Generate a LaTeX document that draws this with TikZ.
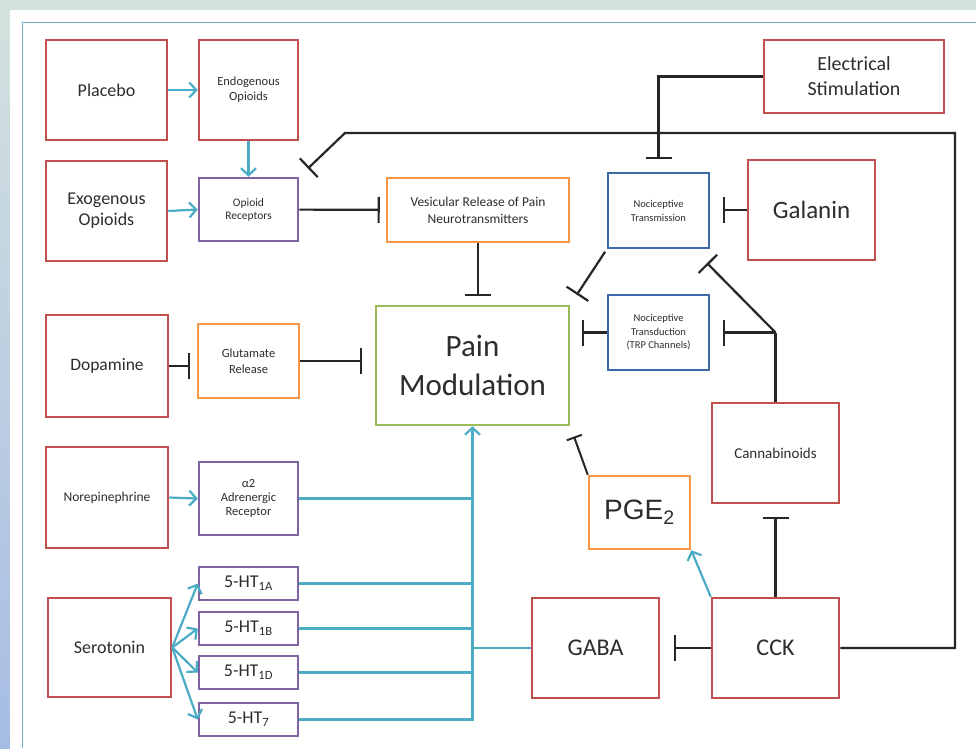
\documentclass[tikz,border=0pt]{standalone}
\usepackage{fontspec}
\setmainfont{Carlito}
\newfontfamily\arialfont{Liberation Sans}
\usetikzlibrary{arrows.meta}

\definecolor{boxred}{RGB}{192,80,77}
\definecolor{boxpurple}{RGB}{128,100,162}
\definecolor{boxorange}{RGB}{247,150,70}
\definecolor{boxgreen}{RGB}{155,187,89}
\definecolor{boxblue}{RGB}{63,106,168}
\definecolor{linkblue}{RGB}{75,172,198}
\definecolor{txtgray}{RGB}{45,45,45}
\definecolor{bgteal}{RGB}{212,226,222}
\definecolor{bgblue}{RGB}{166,188,228}
\definecolor{framebl}{RGB}{120,170,200}
\newcommand{\fs}[2]{\fontsize{#1}{#2}\selectfont}

\begin{document}
\begin{tikzpicture}[x=1pt, y=-1pt,
  box/.style={draw, line width=2.5pt, inner sep=2pt, align=center, text=txtgray},
  sz/.style 2 args={minimum width=#1pt, minimum height=#2pt},
  redbox/.style={box, draw=boxred},
  purplebox/.style={box, draw=boxpurple},
  orangebox/.style={box, draw=boxorange},
  greenbox/.style={box, draw=boxgreen},
  bluebox/.style={box, draw=boxblue},
  bus/.style={draw=linkblue, line width=2.2pt},
  act/.style={bus, -{Straight Barb[length=7pt, width=15pt]}},
  stem/.style={draw=black!85, line width=2.2pt},
  inh/.style={stem, -{Bar[width=26pt]}}]
\useasboundingbox (0,0) rectangle (976,748);
% background and frame
\fill[bgteal] (0,0) rectangle (976,748);
\shade[top color=bgteal, bottom color=bgblue] (0,0) rectangle (10,748);
\fill[white] (10,10) rectangle (976,748);
\draw[framebl, line width=1pt] (22,748) -- (22,22) -- (976,22);

% left column
\node[redbox, sz={121}{100}, font=\fs{18}{22}] (placebo) at (106.5,90) {Placebo};
\node[redbox, sz={99}{100}, font=\fs{12.5}{15}] (endo) at (248.5,90) {Endogenous\\Opioids};
\node[redbox, sz={121}{100}, font=\fs{18}{21}] (exo) at (106.5,211) {Exogenous\\Opioids};
\node[purplebox, sz={99}{63}, font=\fs{11.5}{13}] (oprec) at (248.5,209.5) {Opioid\\Receptors};
\node[redbox, sz={122}{102}, font=\fs{17.5}{21}] (dopa) at (107,366) {Dopamine};
\node[orangebox, sz={101}{74}, font=\fs{12.5}{16}] (glut) at (248.5,361) {Glutamate\\Release};
\node[redbox, sz={122}{101}, font=\fs{13.5}{16}] (norepi) at (107,497.5) {Norepinephrine};
\node[purplebox, sz={99}{73}, font=\fs{12.5}{14}] (alpha) at (248.5,498.5) {α2\\Adrenergic\\Receptor};
\node[redbox, sz={123}{99}, font=\fs{18}{22}] (sero) at (109.5,647.5) {Serotonin};
\node[purplebox, sz={99}{33}, font=\fs{18}{20}] (ht1a) at (248.5,583.5) {5-HT\textsubscript{1A}};
\node[purplebox, sz={99}{33}, font=\fs{18}{20}] (ht1b) at (248.5,628.5) {5-HT\textsubscript{1B}};
\node[purplebox, sz={99}{33}, font=\fs{18}{20}] (ht1d) at (248.5,672.5) {5-HT\textsubscript{1D}};
\node[purplebox, sz={99}{33}, font=\fs{18}{20}] (ht7) at (248.5,719.5) {5-HT\textsubscript{7}};

% centre
\node[orangebox, sz={182}{64}, font=\fs{13.5}{17}] (vesic) at (478,210) {Vesicular Release of Pain\\Neurotransmitters};
\node[greenbox, sz={193}{119}, font=\fs{31}{39}] (pain) at (472.5,365.5) {Pain\\Modulation};

% right column
\node[redbox, sz={180}{73}, font=\fs{20}{25}] (elec) at (854,76.5) {Electrical\\Stimulation};
\node[bluebox, sz={101}{75}, font=\fs{10.5}{14}] (ntrans) at (658.5,210.5) {Nociceptive\\Transmission};
\node[redbox, sz={127}{100}, font=\fs{25}{30}] (galanin) at (811.5,210) {Galanin};
\node[bluebox, sz={101}{75}, font=\fs{10.5}{13.5}] (ntransd) at (658.5,332.5) {Nociceptive\\Transduction\\(TRP Channels)};
\node[redbox, sz={127}{100}, font=\fs{15}{18}] (canna) at (775.5,453) {Cannabinoids};
\node[orangebox, sz={101}{73}, font=\arialfont\fs{28}{32}] (pge) at (639.5,512.5) {PGE\textsubscript{2}};
\node[redbox, sz={127}{100}, font=\fs{24}{28}] (gaba) at (595.5,648) {GABA};
\node[redbox, sz={127}{100}, font=\fs{24}{28}] (cck) at (775.5,648) {CCK};

% activating links
\draw[act] (placebo) -- (endo);
\draw[act] (endo) -- (oprec);
\draw[act] (exo.east) -- (oprec.west);
\draw[act] (norepi.east) -- (alpha.west);
\foreach \r in {ht1a,ht1b,ht1d,ht7}
  \draw[act] (sero.east) -- (\r.west);
\foreach \r in {alpha,ht1a,ht1b,ht1d}
  \draw[bus] (\r.east) -- (\r.east -| pain.south);
\draw[bus] (gaba.west) -- (gaba.west -| pain.south);
\draw[act] (ht7.east) -| (pain.south);
\draw[act] (cck.north west) -- (pge.south east);

% inhibiting links
\draw[inh, shorten >=6pt] (oprec) -- (vesic);
\draw[inh, shorten >=9pt] (vesic.south) -- (vesic.south |- pain.north);
\draw[inh, shorten >=13pt] (glut.east) -- (glut.east -| pain.west);
\draw[inh, shorten >=7pt] (dopa.east) -- (dopa.east -| glut.west);
\draw[inh, shorten <=3pt, shorten >=12pt] (ntrans.south west) -- (pain.north east);
\draw[inh, shorten >=12pt] (ntransd.west) -- (ntransd.west -| pain.east);
\draw[inh, shorten >=13pt] (galanin.west) -- (galanin.west -| ntrans.east);
\coordinate (cannajoin) at (canna.north |- ntransd.east);
\coordinate (cannatip) at (700,256);
\draw[stem] (canna.north) -- (cannajoin);
\draw[inh, shorten >=13pt] (cannajoin) -- (ntransd.east);
\draw[inh, shorten >=10pt] (cannajoin) -- (cannatip);
\draw[inh, shorten >=13pt] (cck) -- (canna);
\draw[inh, shorten >=14pt] (cck) -- (gaba);
\coordinate (loopne) at (955,133);
\coordinate (loopnw) at (345,133);
\draw[inh, shorten >=12pt] (cck.east) -| (loopne) -- (loopnw) -- (oprec.north east);
\draw[inh, shorten >=13pt] (elec.west) -| (ntrans.north);
\draw[stem, -{Bar[width=16pt]}, line width=2pt, shorten >=11pt] (pge.north west) -- (pain.south east);
\end{tikzpicture}
\end{document}
